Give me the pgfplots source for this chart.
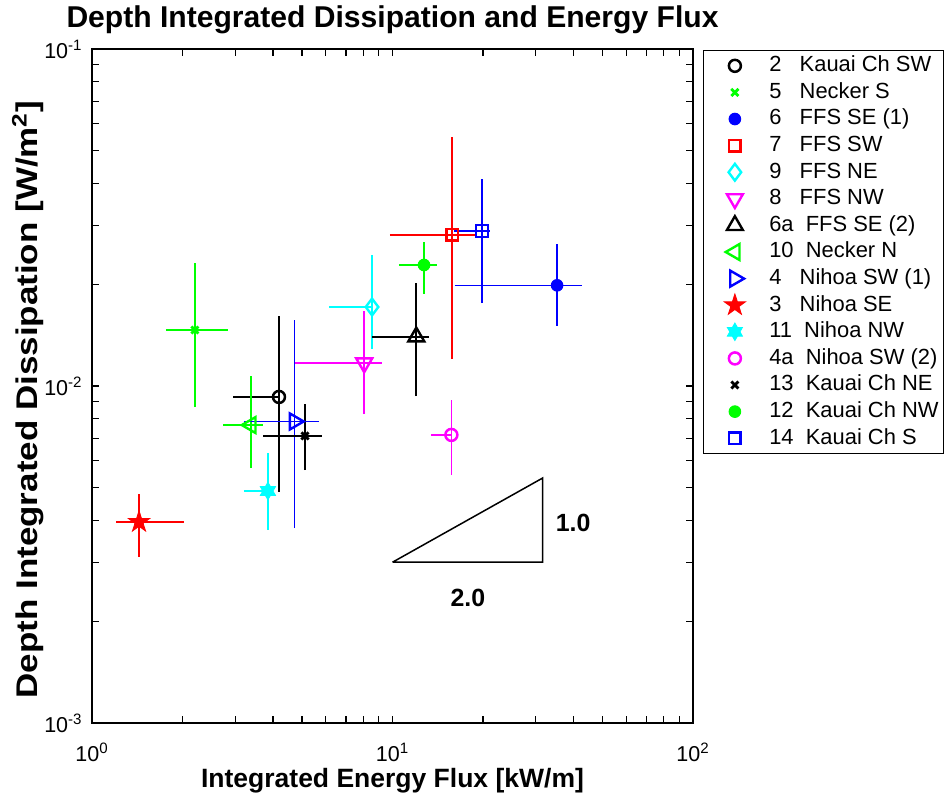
\documentclass[border=0pt]{standalone}
\usepackage{fontspec}
\setmainfont{Liberation Sans}
\usepackage{pgfplots}
\pgfplotsset{compat=1.18}
\usetikzlibrary{plotmarks}

\definecolor{mgreen}{rgb}{0,1,0}
\definecolor{mblue}{rgb}{0,0,1}
\definecolor{mred}{rgb}{1,0,0}
\definecolor{mcyan}{rgb}{0,1,1}
\definecolor{mmag}{rgb}{1,0,1}

\pgfdeclareplotmark{pentagram}{%
  \pgfpathmoveto{\pgfpointpolar{90}{\pgfplotmarksize}}%
  \pgfpathlineto{\pgfpointpolar{126}{0.382\pgfplotmarksize}}%
  \pgfpathlineto{\pgfpointpolar{162}{\pgfplotmarksize}}%
  \pgfpathlineto{\pgfpointpolar{198}{0.382\pgfplotmarksize}}%
  \pgfpathlineto{\pgfpointpolar{234}{\pgfplotmarksize}}%
  \pgfpathlineto{\pgfpointpolar{270}{0.382\pgfplotmarksize}}%
  \pgfpathlineto{\pgfpointpolar{306}{\pgfplotmarksize}}%
  \pgfpathlineto{\pgfpointpolar{342}{0.382\pgfplotmarksize}}%
  \pgfpathlineto{\pgfpointpolar{18}{\pgfplotmarksize}}%
  \pgfpathlineto{\pgfpointpolar{54}{0.382\pgfplotmarksize}}%
  \pgfpathclose\pgfusepathqfillstroke}
\pgfdeclareplotmark{hexagram}{%
  \pgfpathmoveto{\pgfpointpolar{90}{\pgfplotmarksize}}%
  \pgfpathlineto{\pgfpointpolar{120}{0.577\pgfplotmarksize}}%
  \pgfpathlineto{\pgfpointpolar{150}{\pgfplotmarksize}}%
  \pgfpathlineto{\pgfpointpolar{180}{0.577\pgfplotmarksize}}%
  \pgfpathlineto{\pgfpointpolar{210}{\pgfplotmarksize}}%
  \pgfpathlineto{\pgfpointpolar{240}{0.577\pgfplotmarksize}}%
  \pgfpathlineto{\pgfpointpolar{270}{\pgfplotmarksize}}%
  \pgfpathlineto{\pgfpointpolar{300}{0.577\pgfplotmarksize}}%
  \pgfpathlineto{\pgfpointpolar{330}{\pgfplotmarksize}}%
  \pgfpathlineto{\pgfpointpolar{0}{0.577\pgfplotmarksize}}%
  \pgfpathlineto{\pgfpointpolar{30}{\pgfplotmarksize}}%
  \pgfpathlineto{\pgfpointpolar{60}{0.577\pgfplotmarksize}}%
  \pgfpathclose\pgfusepathqfillstroke}

% error bars: color, x, y, xlo, xhi, ylo, yhi
\newcommand{\eb}[7]{%
  \addplot[#1, line width=0.8bp, forget plot] coordinates {(#4,#3) (#5,#3)};
  \addplot[#1, line width=0.8bp, forget plot] coordinates {(#2,#6) (#2,#7)};
}

\begin{document}
\begin{tikzpicture}
\begin{axis}[
  at={(0,0)}, anchor=south west,
  scale only axis, width=300.5bp, height=337bp,
  clip mode=individual,
  xmode=log, ymode=log,
  xmin=1, xmax=100, ymin=0.001, ymax=0.1,
  xtick={1,10,100},
  xticklabels={10\textsuperscript{0},10\textsuperscript{1},10\textsuperscript{2}},
  ytick={0.001,0.01,0.1},
  yticklabels={10\textsuperscript{-3},10\textsuperscript{-2},10\textsuperscript{-1}},
  minor xtick={2,3,4,5,6,7,8,9,20,30,40,50,60,70,80,90},
  minor ytick={0.002,0.003,0.004,0.005,0.006,0.007,0.008,0.009,0.02,0.03,0.04,0.05,0.06,0.07,0.08,0.09},
  tick align=inside,
  major tick length=3.5bp, minor tick length=3.5bp,
  every tick/.style={black, line width=0.6bp},
  axis line style={line width=1bp},
  ticklabel style={font=\fontsize{10.8}{12}\selectfont},
  xticklabel style={anchor=north, inner sep=0pt, yshift=-10bp},
  yticklabel style={anchor=east, inner sep=0pt, xshift=-4.5bp},
  xlabel={Integrated Energy Flux [kW/m]},
  xlabel style={at={(axis description cs:0.5,-0.0964)}, anchor=base, inner sep=0pt,
    font=\bfseries\fontsize{13.3}{15}\selectfont},
  ylabel={\scalebox{1.17}[1]{Depth Integrated Dissipation [W/m\textsuperscript{2}]}},
  ylabel style={at={(axis description cs:-0.0915,0.48)}, anchor=base, inner sep=0pt,
    font=\bfseries\fontsize{15}{17}\selectfont},
  legend style={at={(axis description cs:1.0166,0.9985)}, anchor=north west,
    draw=black, line width=0.5bp, inner xsep=1bp, inner ysep=1bp,
    font=\fontsize{11}{13}\selectfont, row sep=0pt,
    nodes={inner sep=1.5bp, text height=8.1bp, text depth=2.2bp}},
  legend cell align=left,
  legend image code/.code={%
    \path (0bp,0bp) (29bp,0bp);
    \draw[#1] plot coordinates {(14bp,0bp)};},
]

% ---- error bars ----
\eb{black}{4.19}{0.00928}{2.95}{4.19}{0.00485}{0.01613}
\eb{mgreen}{2.20}{0.01466}{1.763}{2.835}{0.00866}{0.02317}
\eb{mblue}{35.3}{0.0199}{16.1}{42.7}{0.01507}{0.02639}
\eb{mred}{15.8}{0.0281}{9.81}{19.1}{0.01202}{0.0548}
\eb{mcyan}{8.55}{0.01716}{6.15}{8.55}{0.01287}{0.02447}
\eb{mmag}{8.05}{0.0117}{4.70}{9.2}{0.00826}{0.0167}
\eb{black}{12.0}{0.0140}{8.55}{13.23}{0.00934}{0.02021}
\eb{mgreen}{3.38}{0.00766}{2.73}{3.71}{0.00571}{0.01071}
\eb{mblue}{4.72}{0.00785}{3.205}{5.693}{0.00379}{0.0157}
\eb{mred}{1.434}{0.00395}{1.202}{2.024}{0.00311}{0.00478}
\eb{mcyan}{3.85}{0.00488}{3.205}{3.85}{0.00374}{0.00633}
\eb{mmag}{15.7}{0.00716}{13.44}{15.7}{0.00544}{0.00909}
\eb{black}{5.115}{0.00711}{3.708}{5.826}{0.00563}{0.00884}
\eb{mgreen}{12.73}{0.02286}{10.51}{14.07}{0.01875}{0.02676}
\eb{mblue}{19.86}{0.02884}{16.02}{21.11}{0.01763}{0.04114}

% ---- slope triangle ----
\addplot[black, line width=0.75bp, forget plot] coordinates {(10,0.003) (31.62,0.003) (31.62,0.005335) (10,0.003)};

% ---- markers ----
\addplot[black, only marks, mark=o, mark size=3bp, line width=1.25bp] coordinates {(4.19,0.00928)};
\addlegendentry{2\ \ \ Kauai Ch SW}
\addplot[mgreen, only marks, mark=x, mark size=2.5bp, line width=1.4bp] coordinates {(2.20,0.01466)};
\addlegendentry{5\ \ \ Necker S}
\addplot[mblue, only marks, mark=*, mark size=2.9bp, line width=0.5bp] coordinates {(35.3,0.0199)};
\addlegendentry{6\ \ \ FFS SE (1)}
\addplot[mred, only marks, mark=square, mark size=2.9bp, line width=1.25bp] coordinates {(15.8,0.0281)};
\addlegendentry{7\ \ \ FFS SW}
\addplot[mcyan, only marks, mark=diamond, mark size=4.2bp, line width=1.2bp] coordinates {(8.55,0.01716)};
\addlegendentry{9\ \ \ FFS NE}
\addplot[mmag, only marks, mark=triangle, mark options={rotate=180}, mark size=4.6bp, line width=1.2bp] coordinates {(8.05,0.0117)};
\addlegendentry{8\ \ \ FFS NW}
\addplot[black, only marks, mark=triangle, mark size=4.6bp, line width=1.2bp] coordinates {(12.0,0.0140)};
\addlegendentry{6a\ \ FFS SE (2)}
\addplot[mgreen, only marks, mark=triangle, mark options={rotate=90}, mark size=4.6bp, line width=1.2bp] coordinates {(3.38,0.00766)};
\addlegendentry{10\ \ Necker N}
\addplot[mblue, only marks, mark=triangle, mark options={rotate=-90}, mark size=4.6bp, line width=1.2bp] coordinates {(4.72,0.00785)};
\addlegendentry{4\ \ \ Nihoa SW (1)}
\addplot[mred, only marks, mark=pentagram, mark size=5.6bp, line width=0.4bp] coordinates {(1.434,0.00395)};
\addlegendentry{3\ \ \ Nihoa SE}
\addplot[mcyan, only marks, mark=hexagram, mark size=4.4bp, line width=0.4bp] coordinates {(3.85,0.00488)};
\addlegendentry{11\ \ Nihoa NW}
\addplot[mmag, only marks, mark=o, mark size=3bp, line width=1.25bp] coordinates {(15.7,0.00716)};
\addlegendentry{4a\ \ Nihoa SW (2)}
\addplot[black, only marks, mark=x, mark size=2.5bp, line width=1.4bp] coordinates {(5.115,0.00711)};
\addlegendentry{13\ \ Kauai Ch NE}
\addplot[mgreen, only marks, mark=*, mark size=2.9bp, line width=0.5bp] coordinates {(12.73,0.02286)};
\addlegendentry{12\ \ Kauai Ch NW}
\addplot[mblue, only marks, mark=square, mark size=2.9bp, line width=1.25bp] coordinates {(19.86,0.02884)};
\addlegendentry{14\ \ Kauai Ch S}

\node[font=\bfseries\fontsize{12.5}{14}\selectfont] at (axis cs:39.9,0.003923) {1.0};
\node[font=\bfseries\fontsize{12.5}{14}\selectfont] at (axis cs:17.83,0.00235) {2.0};
\node[anchor=base, inner sep=0pt, font=\bfseries\fontsize{15.1}{17}\selectfont]
  at (rel axis cs:0.5,1.0322) {Depth Integrated Dissipation and Energy Flux};
\end{axis}
\pgfresetboundingbox
\useasboundingbox (-46bp,-37.5bp) rectangle (428.5bp,361.5bp);
\end{tikzpicture}
\end{document}
